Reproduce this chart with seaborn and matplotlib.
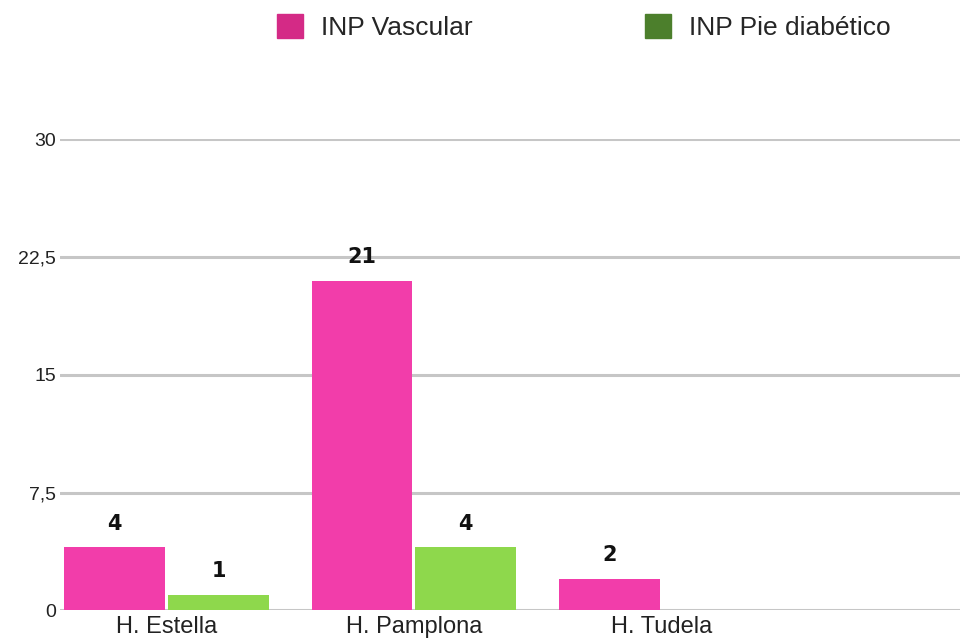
import pandas as pd
import seaborn as sns
import matplotlib.pyplot as plt

hospitales = ["H. Estella", "H. Pamplona", "H. Tudela"]
series = ["INP Vascular", "INP Pie diabético"]
vascular = [4, 21, 2]
pie_diabetico = [1, 4, 0]
yticks = [0, 7.5, 15, 22.5, 30]
ytick_labels = ["0", "7,5", "15", "22,5", "30"]

bar_colors = ["#F23DAA", "#8ED84C"]
legend_colors = ["#D42A86", "#4C7F2C"]


def main():
    df = pd.DataFrame({
        "hospital": hospitales * 2,
        "serie": [series[0]] * 3 + [series[1]] * 3,
        "valor": vascular + pie_diabetico,
    })

    sns.set_style("white")
    plt.rcParams["font.family"] = ["Liberation Sans", "DejaVu Sans"]

    fig = plt.figure(figsize=(9.73, 6.39), dpi=100)
    ax = fig.add_axes([0.062, 0.045, 0.925, 0.737])

    for y in yticks:
        ax.axhline(y, color="#C6C6C6", lw=2.2, zorder=0)

    sns.barplot(data=df, x="hospital", y="valor", hue="serie",
                palette=bar_colors, saturation=1, width=0.84, gap=0.03,
                ax=ax, zorder=2, legend=False, edgecolor="none")

    # etiquetas encima de cada barra (no para ceros)
    for cont in ax.containers:
        labels = ["" if b.get_height() == 0 else "%d" % b.get_height() for b in cont]
        ax.bar_label(cont, labels=labels, padding=10, fontsize=15,
                     fontweight="bold", family="DejaVu Sans", color="#111111")

    ax.set_xlim(-0.43, 3.21)
    ax.set_ylim(0, 30)
    ax.set_yticks(yticks)
    ax.set_yticklabels(ytick_labels, fontsize=14, color="#222222")
    ax.tick_params(axis="y", length=0, pad=3)
    ax.tick_params(axis="x", length=0, pad=4, labelsize=17, labelcolor="#222222")
    ax.set_xlabel("")
    ax.set_ylabel("")
    sns.despine(ax=ax, left=True, bottom=True)

    handles = [plt.Rectangle((0, 0), 1, 1, color=c) for c in legend_colors]
    fig.legend(handles, series, loc="center", bbox_to_anchor=(0.6, 0.958),
               ncol=2, frameon=False, fontsize=19, columnspacing=6.5,
               handlelength=1.0, handleheight=1.0, handletextpad=0.7)

    plt.savefig("out.png", dpi=100)


if __name__ == "__main__":
    main()
